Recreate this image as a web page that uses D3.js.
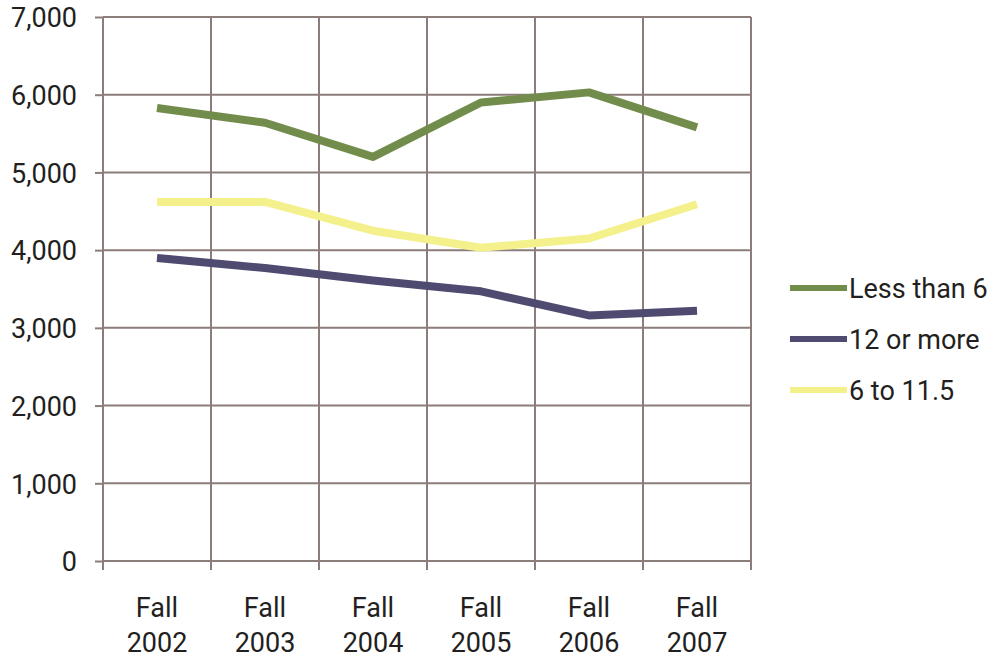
<!DOCTYPE html>
<html>
<head>
<meta charset="utf-8">
<script src="https://cdn.jsdelivr.net/npm/d3@7"></script>
<style>
  html, body { margin: 0; padding: 0; background: #fff; }
  svg { display: block; }
  text { font-family: Roboto, "Noto Sans", sans-serif; fill: #231f20; }
</style>
</head>
<body>
<svg id="chart" width="998" height="660"></svg>
<script>
// Enrollment by credit load, fall terms
const categories = ["Fall 2002", "Fall 2003", "Fall 2004", "Fall 2005", "Fall 2006", "Fall 2007"];
const lessThan6 = [5830, 5640, 5200, 5900, 6030, 5580];
const twelveOrMore = [3900, 3770, 3610, 3470, 3160, 3220];
const sixTo11 = [4620, 4620, 4250, 4030, 4150, 4590];
const yTicks = [0, 1000, 2000, 3000, 4000, 5000, 6000, 7000];

const series = [
  { name: "Less than 6", values: lessThan6, color: "#728c4c" },
  { name: "12 or more", values: twelveOrMore, color: "#4e4a70" },
  { name: "6 to 11.5", values: sixTo11, color: "#f4f08c" }
];
// yellow is drawn beneath the others, legend order stays as listed
const drawOrder = [2, 0, 1];

const svg = d3.select("#chart");
const plotLeft = 103, plotRight = 751, plotTop = 17, plotBottom = 561;
const gridColor = "#8c7c7a";
const fontSize = "27px";

const x = d3.scaleBand().domain(categories).range([plotLeft, plotRight]).padding(0);
const y = d3.scaleLinear().domain([0, 7000]).range([plotBottom, plotTop]);

// horizontal gridlines
svg.append("g").selectAll("line").data(yTicks).join("line")
  .attr("x1", plotLeft).attr("x2", plotRight)
  .attr("y1", d => y(d)).attr("y2", d => y(d))
  .attr("stroke", gridColor).attr("stroke-width", 2);

// vertical gridlines at band edges
const edges = categories.map(c => x(c)).concat([plotRight]);
svg.append("g").selectAll("line").data(edges).join("line")
  .attr("x1", d => d).attr("x2", d => d)
  .attr("y1", plotTop).attr("y2", plotBottom + 9)
  .attr("stroke", gridColor).attr("stroke-width", 2);

// y axis
const yAxis = d3.axisLeft(y).tickValues(yTicks).tickSize(8).tickPadding(18)
  .tickFormat(d3.format(","));
const gy = svg.append("g").attr("transform", `translate(${plotLeft},0)`).call(yAxis);
gy.attr("font-family", null).attr("font-size", null);
gy.select(".domain").remove();
gy.selectAll(".tick line").attr("stroke", gridColor).attr("stroke-width", 2);
gy.selectAll(".tick text").style("font-size", fontSize).attr("fill", "#231f20").attr("dy", "0.36em");

// x labels, two lines each
const gx = svg.append("g");
categories.forEach(c => {
  const parts = c.split(" ");
  const cx = x(c) + x.bandwidth() / 2;
  const t = gx.append("text")
    .attr("x", cx)
    .attr("text-anchor", "middle")
    .style("font-size", fontSize);
  t.append("tspan").attr("x", cx).attr("y", 617).text(parts[0]);
  t.append("tspan").attr("x", cx).attr("y", 652).text(parts[1]);
});

// lines
const line = d3.line()
  .x((d, i) => x(categories[i]) + x.bandwidth() / 2)
  .y(d => y(d))
  .curve(d3.curveLinear);

drawOrder.forEach(i => {
  const s = series[i];
  svg.append("path")
    .datum(s.values)
    .attr("d", line)
    .attr("fill", "none")
    .attr("stroke", s.color)
    .attr("stroke-width", 8)
    .attr("stroke-linejoin", "round")
    .attr("stroke-linecap", "butt");
});

// legend
const legend = svg.append("g");
series.forEach((s, i) => {
  const ly = 288 + i * 51;
  legend.append("line")
    .attr("x1", 790).attr("x2", 847)
    .attr("y1", ly).attr("y2", ly)
    .attr("stroke", s.color).attr("stroke-width", 6);
  legend.append("text")
    .attr("x", 849).attr("y", ly).attr("dy", "0.36em")
    .style("font-size", fontSize)
    .text(s.name);
});
</script>
</body>
</html>
